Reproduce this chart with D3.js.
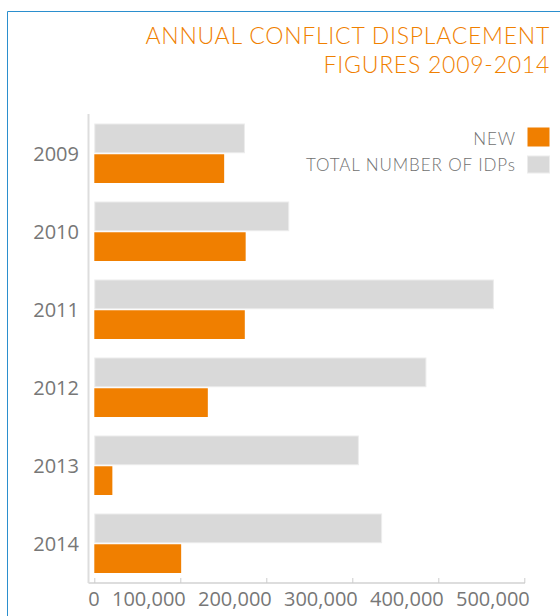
<!DOCTYPE html>
<html>
<head>
	<meta charset="utf-8"/>
	<title>Annual conflict displacement figures 2009-2014</title>
	<script src="https://d3js.org/d3.v7.min.js"></script>
	<style type="text/css">
		body { margin: 0; background: #fff; }
		svg { display: block; }
		.title { fill: #f08000; font-family: Lato, "Open Sans", sans-serif; font-weight: 300; font-size: 23px; letter-spacing: 0.75px; }
		.legend text { fill: #707070; font-family: Lato, "Open Sans", sans-serif; font-weight: 300; font-size: 17px; letter-spacing: 0.9px; }
		.axis text { fill: #777; font-family: "Open Sans", sans-serif; font-size: 20px; }
		.axis line { stroke: #ccc; }
		.frame { stroke: #ddd; stroke-width: 2; }
	</style>
</head>
<body>
<svg width="560" height="616"></svg>

<script type="text/javascript">
// values
const years = ['2009', '2010', '2011', '2012', '2013', '2014'];
const newDisplaced = [151000, 176000, 175000, 132000, 21000, 101000];
const totalIDPs = [174000, 225500, 463500, 385000, 306500, 333500];
const xTicks = [0, 100000, 200000, 300000, 400000, 500000];
const series = ['TOTAL NUMBER OF IDPs', 'NEW'];
const colors = ['#d9d9d9', '#f07f00'];

const svg = d3.select('svg');

// blue frame on the top and left
svg.append('path')
	.attr('d', 'M7.5,616V11.5H560')
	.attr('fill', 'none')
	.attr('stroke', '#2b8fce')
	.attr('stroke-width', 1);

// title (letter-spacing stretches the last glyph, so shift right a touch)
const title = svg.append('text').attr('class', 'title').attr('text-anchor', 'end');
title.append('tspan').attr('x', 550).attr('y', 43.5).text('ANNUAL CONFLICT DISPLACEMENT');
title.append('tspan').attr('x', 550).attr('y', 72.5).text('FIGURES 2009-2014');

const x = d3.scaleLinear()
	.domain([0, 500000])
	.range([94.3, 524.3]);

const y = d3.scaleBand()
	.domain(years)
	.range([124, 573])
	.paddingInner(19 / 78);

const inner = d3.scaleBand()
	.domain(series)
	.range([0, y.bandwidth()])
	.paddingInner(0.05);

const rows = years.map((yr, i) => ({year: yr, values: [totalIDPs[i], newDisplaced[i]]}));

// frame lines of the plot
svg.append('line').attr('class', 'frame')
	.attr('x1', 88.5).attr('x2', 88.5).attr('y1', 114).attr('y2', 583);
svg.append('line').attr('class', 'frame')
	.attr('x1', 88.5).attr('x2', 525).attr('y1', 583).attr('y2', 583);

const groups = svg.selectAll('g.year')
	.data(rows)
	.enter().append('g')
		.attr('class', 'year')
		.attr('transform', d => `translate(0,${y(d.year)})`);

groups.selectAll('rect')
	.data(d => d.values.map((v, j) => ({key: series[j], value: v, j: j})))
	.enter().append('rect')
		.attr('x', d => d.j === 0 ? x(0) + 0.5 : x(0))
		.attr('y', d => inner(d.key))
		.attr('width', d => x(d.value) - x(0))
		.attr('height', inner.bandwidth())
		.attr('fill', d => colors[d.j])
		.attr('stroke', d => d.j === 0 ? '#ececec' : 'none')
		.attr('stroke-width', 1);

// year labels
svg.append('g')
	.attr('class', 'axis')
	.attr('transform', 'translate(88.5,0)')
	.call(d3.axisLeft(y).tickSize(0).tickPadding(9.5))
	.call(g => g.select('.domain').remove())
	.selectAll('text')
		.attr('dy', '0.36em');

// value axis
svg.append('g')
	.attr('class', 'axis')
	.attr('transform', 'translate(0,583)')
	.call(d3.axisBottom(x)
		.tickValues(xTicks)
		.tickSize(-5)
		.tickPadding(9)
		.tickFormat(d3.format(',')))
	.call(g => g.select('.domain').remove())
	.selectAll('text')
		.attr('text-anchor', 'end')
		.attr('dx', 5)
		.attr('y', 22.5)
		.attr('dy', 0);

// legend
const legendItems = [
	{label: series[1], color: colors[1], y: 127.5, h: 19},
	{label: series[0], color: colors[0], y: 156, h: 17}
];
const legend = svg.append('g').attr('class', 'legend');
legend.selectAll('rect')
	.data(legendItems)
	.enter().append('rect')
		.attr('x', 527.5)
		.attr('y', d => d.y)
		.attr('width', 22)
		.attr('height', d => d.h)
		.attr('fill', d => d.color)
		.attr('stroke', d => d.color === colors[0] ? '#ececec' : 'none');
legend.selectAll('text')
	.data(legendItems)
	.enter().append('text')
		.attr('x', 516)
		.attr('y', d => d.y + d.h - 2)
		.attr('text-anchor', 'end')
		.text(d => d.label);
</script>
</body>
</html>
